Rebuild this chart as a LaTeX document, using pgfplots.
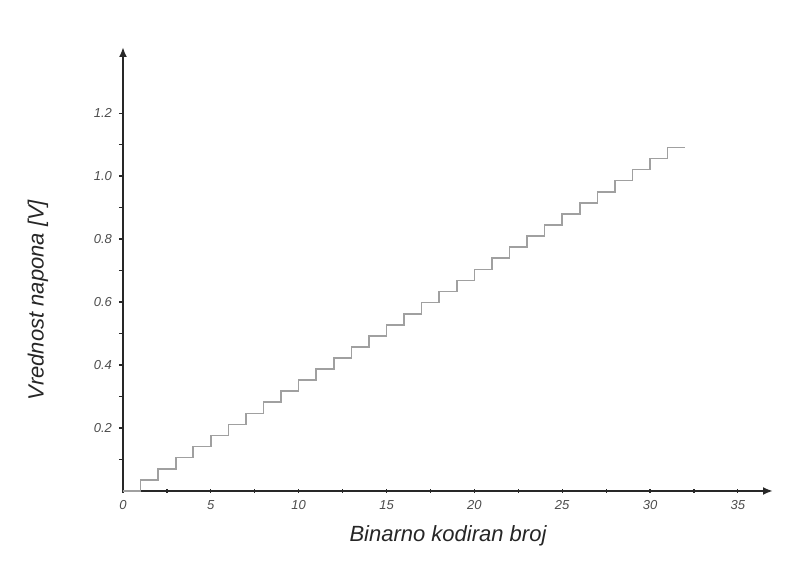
\documentclass[border=0pt]{standalone}
\usepackage{fontspec}
\setmainfont{Liberation Sans}
\usepackage{pgfplots}
\pgfplotsset{compat=1.18}
\usetikzlibrary{arrows.meta}
\definecolor{stepgray}{RGB}{160,160,160}
\definecolor{axgray}{RGB}{40,40,40}
\begin{document}
\begin{tikzpicture}
\useasboundingbox (0,0) rectangle (396.5pt,288pt);
\begin{axis}[
  at={(61.5pt,42.5pt)}, anchor=origin,
  scale only axis, width=325pt, height=222pt,
  xmin=0, xmax=37, ymin=0, ymax=1.41,
  axis lines=left,
  axis line style={axgray, line width=1pt, -{Latex[length=5pt,width=4pt]}},
  xtick={0,5,...,35}, minor xtick={2.5,7.5,...,32.5},
  ytick={0.2,0.4,0.6,0.8,1.0,1.2}, minor ytick={0.1,0.3,0.5,0.7,0.9,1.1},
  major tick length=2pt, minor tick length=2pt,
  tick style={axgray, line width=0.6pt},
  xtick align=center, ytick align=outside,
  /pgf/number format/assume math mode=true,
  yticklabel style={/pgf/number format/.cd, fixed, fixed zerofill, precision=1},
  ticklabel style={font=\fontsize{6.5}{7}\selectfont\itshape, text=black!70},
  xticklabel style={yshift=0pt},
  xlabel={Binarno kodiran broj},
  ylabel={Vrednost napona [V]},
  label style={font=\fontsize{11}{13}\selectfont\itshape, text=black!85},
  xlabel style={at={(rel axis cs:0.5,0)}, anchor=center, yshift=-22.5pt},
  ylabel style={at={(rel axis cs:0,0.43)}, anchor=center, yshift=42.5pt},
  clip=false,
]
\addplot[const plot, color=stepgray, line width=0.8pt] coordinates {
(0,0) (1,0.035) (2,0.070) (3,0.106) (4,0.141) (5,0.176) (6,0.211) (7,0.246)
(8,0.282) (9,0.317) (10,0.352) (11,0.387) (12,0.422) (13,0.458) (14,0.493)
(15,0.528) (16,0.563) (17,0.598) (18,0.634) (19,0.669) (20,0.704) (21,0.739)
(22,0.774) (23,0.810) (24,0.845) (25,0.880) (26,0.915) (27,0.950) (28,0.986)
(29,1.021) (30,1.056) (31,1.091) (32,1.091)
};
\end{axis}
\end{tikzpicture}
\end{document}
